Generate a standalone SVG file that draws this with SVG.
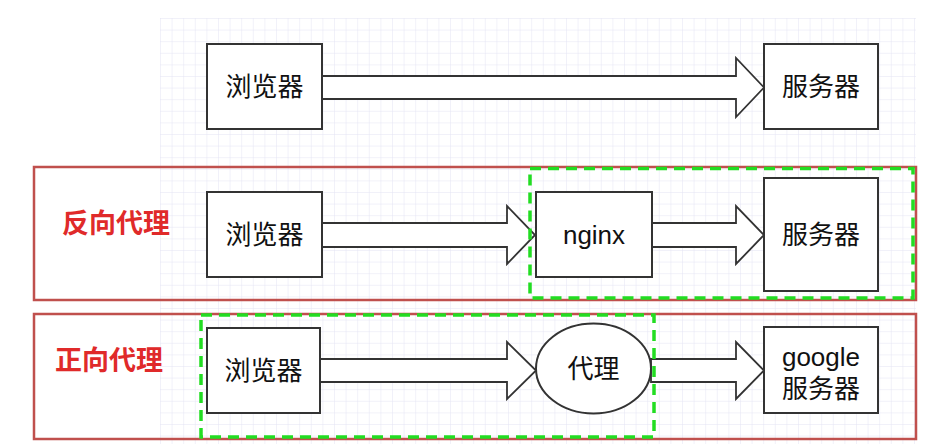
<svg xmlns="http://www.w3.org/2000/svg" width="926" height="444" viewBox="0 0 926 444">
<defs>
<pattern id="grid" x="160" y="18" width="11.6" height="11.6" patternUnits="userSpaceOnUse">
<path d="M0 0H11.6M0 0V11.6" fill="none" stroke="#e3e3f4" stroke-width="1"/>
</pattern>
</defs>
<style>
.box{fill:#fff;stroke:#333;stroke-width:2}
.arr{fill:#fff;stroke:#333;stroke-width:1.8;stroke-linejoin:miter}
.t{font-family:"Liberation Sans","Noto Sans CJK SC",sans-serif;font-size:26px;fill:#111;text-anchor:middle}
.lab{font-family:"Liberation Sans","Noto Sans CJK SC",sans-serif;font-size:27px;font-weight:bold;fill:#e02a2a;text-anchor:middle}
.red{fill:none;stroke:#c0504d;stroke-width:2.5}
.green{fill:none;stroke:#22dd22;stroke-width:3.5;stroke-dasharray:11 7}
</style>
<rect width="926" height="444" fill="#fff"/>
<rect x="160" y="18" width="756" height="426" fill="url(#grid)"/>

<g id="frames">
<rect class="red" x="34" y="167" width="882" height="133"/>
<rect class="red" x="34" y="314" width="882" height="125"/>
</g>

<g id="connectors">
<path class="arr" d="M322 76H736V58L764 87.5L736 117V99H322Z"/>
<path class="arr" d="M322 223H507V206L535 235L507 264V247H322Z"/>
<path class="arr" d="M652 223H736V206L764 235L736 264V247H652Z"/>
<path class="arr" d="M320 359H507V342L536 370.5L507 399V382H320Z"/>
<path class="arr" d="M651 359H736V342L764 370.5L736 399V382H651Z"/>
</g>

<g id="browser1"><rect class="box" x="207" y="44" width="115" height="85"/><text class="t" x="264.5" y="96">浏览器</text></g>
<g id="server1"><rect class="box" x="764" y="44" width="114" height="85"/><text class="t" x="821" y="96">服务器</text></g>

<g id="label-reverse"><text class="lab" x="116" y="233">反向代理</text></g>
<g id="browser2"><rect class="box" x="207" y="192" width="115" height="85"/><text class="t" x="264.5" y="244">浏览器</text></g>
<g id="nginx"><rect class="box" x="536" y="192" width="116" height="85"/><text class="t" x="594" y="244">nginx</text></g>
<g id="server2"><rect class="box" x="764" y="178" width="114" height="113"/><text class="t" x="821" y="244">服务器</text></g>

<g id="label-forward"><text class="lab" x="109" y="370">正向代理</text></g>
<g id="browser3"><rect class="box" x="207" y="328" width="113" height="85"/><text class="t" x="263.5" y="380">浏览器</text></g>
<g id="proxy"><ellipse class="box" cx="593.5" cy="368.5" rx="57.5" ry="45"/><text class="t" x="593.5" y="378">代理</text></g>
<g id="google"><rect class="box" x="764" y="327" width="114" height="86"/><text class="t" x="821" y="366">google</text><text class="t" x="821" y="398">服务器</text></g>

<g id="dashed">
<rect class="green" x="530" y="168.5" width="383" height="129.5"/>
<rect class="green" x="201" y="315" width="453" height="122"/>
</g>
</svg>
